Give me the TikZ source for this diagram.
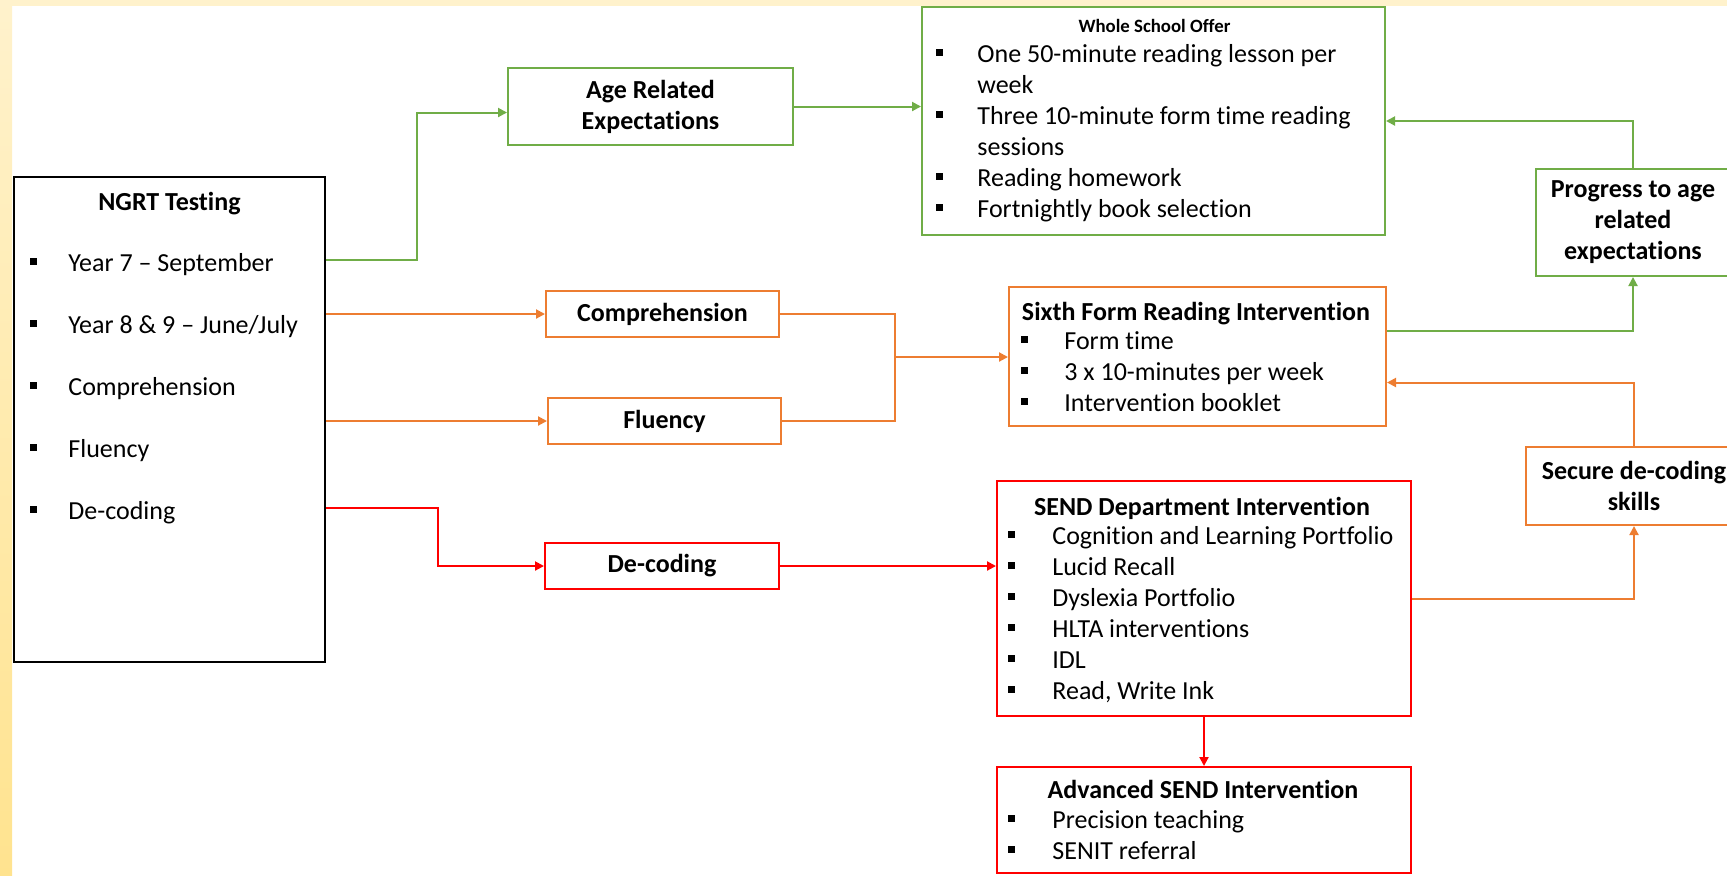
\documentclass[tikz,border=0pt]{standalone}
\usepackage{fontspec}
\setmainfont[Ligatures={TeX,NoCommon}]{Carlito}
\usepackage{tikz}
\usetikzlibrary{arrows.meta,calc}
\definecolor{offgreen}{HTML}{70AD47}
\definecolor{offorange}{HTML}{ED7D31}
\definecolor{offred}{HTML}{FF0000}
\definecolor{paleyel}{HTML}{FFF2CC}
\definecolor{deepyel}{HTML}{FFE38F}
\newcommand{\bodyfont}{\fontsize{13pt}{15.5pt}\selectfont}
\newcommand{\wsofont}{\fontsize{9.4pt}{11pt}\selectfont\bfseries}
\newcommand{\sqb}{\rule[0.24em]{3.4pt}{3.4pt}}

\begin{document}
\begin{tikzpicture}[x=0.5pt,y=-0.5pt,font=\bodyfont,
  bx/.style 2 args={minimum width=#1,minimum height=#2,inner sep=0pt,line width=1pt,align=center,font=\bodyfont\bfseries},
  kbox/.style={draw=black},
  gbox/.style={draw=offgreen},
  obox/.style={draw=offorange},
  rbox/.style={draw=offred},
  itm/.style={anchor=base west,inner sep=0pt},
  ttl/.style={anchor=base,inner sep=0pt,font=\bodyfont\bfseries},
  tip/.style={-{Triangle[length=4.5pt,width=4.5pt]}},
  gline/.style={draw=offgreen,line width=1pt},
  oline/.style={draw=offorange,line width=1pt},
  rline/.style={draw=offred,line width=1pt}]
\useasboundingbox (0,0) rectangle (1727,875);
\clip (0,0) rectangle (1727,875);
% frame
\fill[paleyel] (0,0) rectangle (1727,6);
\shade[top color=paleyel,bottom color=deepyel] (0,0) rectangle (12,875);

% boxes
\node[bx={155.5pt}{242.5pt},kbox] (ngrt) at (169.5,419.5) {};
\node[bx={142.5pt}{38.5pt},gbox] (age) at (650.5,106.5) {Age Related\\Expectations};
\node[bx={231.5pt}{114pt},gbox] (wso) at (1153.5,121) {};
\node[bx={97pt}{53.5pt},gbox] (prog) at (1633,222.5) {Progress to age\\related\\expectations};
\node[bx={116.5pt}{23pt},obox] (comp) at (662.5,314) {Comprehension};
\node[bx={116.5pt}{23pt},obox] (flu) at (664.5,421) {Fluency};
\node[bx={117pt}{23pt},rbox] (dec) at (662,566) {De-coding};
\node[bx={188.5pt}{69.5pt},obox] (six) at (1197.5,356.5) {};
\node[bx={108pt}{39pt},obox] (sec) at (1634,486) {Secure de-coding\\skills};
\node[bx={207pt}{117.5pt},rbox] (send) at (1204,598.5) {};
\node[bx={207pt}{53pt},rbox] (adv) at (1204,820) {};

% box contents
\node[ttl] (ngrt-h) at (169.5,210) {NGRT Testing};
\foreach \t [count=\i] in {Year 7 -- September, Year 8 \& 9 -- June/July, Comprehension, Fluency, De-coding}
  \node[itm] (ngrt-\i) at (30,209+62*\i) {\makebox[19pt][l]{\sqb}\t};

\node[ttl,font=\wsofont] (wso-h) at (1154.5,32) {Whole School Offer};
\foreach \b/\t [count=\i] in {1/One 50-minute reading lesson per, 0/week, 1/Three 10-minute form time reading, 0/sessions, 1/Reading homework, 1/Fortnightly book selection}
  \node[itm] (wso-\i) at (936,31+31*\i) {\makebox[20.5pt][l]{\ifnum\b=1 \sqb\fi}\t};

\node[ttl] (six-h) at (1196,320) {Sixth Form Reading Intervention};
\foreach \t [count=\i] in {Form time, 3 x 10-minutes per week, Intervention booklet}
  \node[itm] (six-\i) at (1021,318+31*\i) {\makebox[21.5pt][l]{\sqb}\t};

\node[ttl] (send-h) at (1202,515) {SEND Department Intervention};
\foreach \t [count=\i] in {Cognition and Learning Portfolio, Lucid Recall, Dyslexia Portfolio, HLTA interventions, IDL, {Read, Write Ink}}
  \node[itm] (send-\i) at (1008,513+31*\i) {\makebox[22pt][l]{\sqb}\t};

\node[ttl] (adv-h) at (1203,798) {Advanced SEND Intervention};
\foreach \t [count=\i] in {Precision teaching, SENIT referral}
  \node[itm] (adv-\i) at (1008,797+31*\i) {\makebox[22pt][l]{\sqb}\t};

% connectors
\coordinate (mrg) at (895,357);
\draw[gline,tip] ([yshift=-42pt]ngrt.north east) -- ++(91,0) |- ([yshift=-3pt]age.west);
\draw[gline,tip] (age.east) -- (age.east -| wso.west);
\draw[oline,tip] (comp -| ngrt.east) -- (comp.west);
\draw[oline,tip] (flu -| ngrt.east) -- (flu.west);
\draw[rline,tip] ([yshift=-166pt]ngrt.north east) -- ++(112,0) |- (dec.west);
\draw[oline] (comp.east) -| (mrg) |- (flu.east);
\draw[oline,tip] (mrg) -- (mrg -| six.west);
\draw[rline,tip] (dec.east) -- (dec.east -| send.west);
\draw[rline,tip] (send.south) -- (adv.north);
\draw[oline,tip] (send.east) -| (sec.south);
\draw[oline,tip] (sec.north) |- ([yshift=-13pt]six.east);
\draw[gline,tip] ([yshift=13pt]six.east) -| (prog.south);
\draw[gline,tip] (prog.north) |- (wso.east);
\end{tikzpicture}
\end{document}
